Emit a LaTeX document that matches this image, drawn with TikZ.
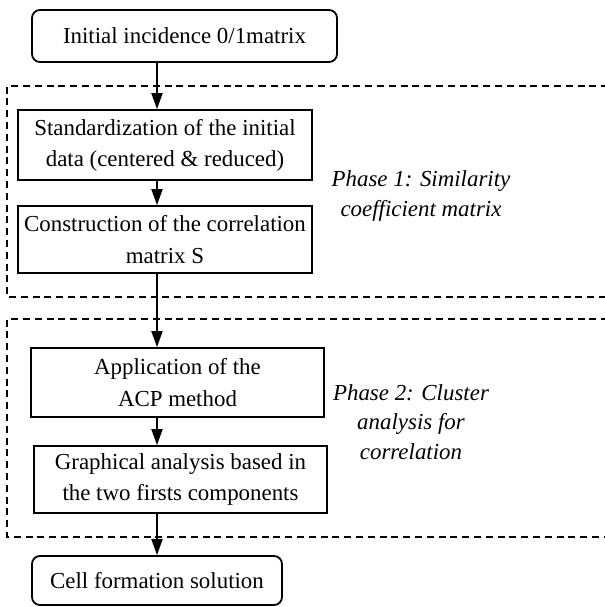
\documentclass[tikz,border=0pt]{standalone}
\usepackage{fontspec}
\setmainfont{Liberation Serif}
\usetikzlibrary{arrows.meta, positioning}

\begin{document}
\begin{tikzpicture}[x=0.5pt, y=-0.5pt,
    step box/.style={rectangle, draw=black, line width=0.9pt, fill=white, inner sep=0pt, align=center, font=\fontsize{11.45}{15.6}\selectfont},
    end box/.style={step box, rounded corners=4pt},
    phase/.style={dashed, dash pattern=on 3.5pt off 2.4pt, line width=0.8pt},
    label/.style={align=center, font=\fontsize{11.45}{14.6}\selectfont\itshape},
    arrow/.style={-{Triangle[length=8pt, width=5.5pt]}, line width=0.9pt}
]
\useasboundingbox (0,0) rectangle (605,607);

% Phase frames (open on the right)
\draw[phase] (620,86) -- (7,86) -- (7,297) -- (620,297);
\draw[phase] (620,319) -- (7,319) -- (7,537) -- (620,537);

\node[end box, minimum width=152.5pt, minimum height=26pt] (init) at (184.5,36) {Initial incidence 0/1matrix};
\node[step box, minimum width=147pt, minimum height=35pt] (std) at (165,145) {Standardization of the initial\\data (centered \& reduced)};
\node[step box, minimum width=147pt, minimum height=33.5pt] (corr) at (165,239.5) {Construction of the correlation\\matrix S};
\node[step box, minimum width=146.5pt, minimum height=34.5pt] (acp) at (177.5,382.5) {Application of the\\ACP method};
\node[step box, minimum width=146.5pt, minimum height=33.5pt] (graph) at (180.5,479.5) {Graphical analysis based in\\the two firsts components};
\node[end box, minimum width=125pt, minimum height=24.5pt] (cell) at (157,580.5) {Cell formation solution};

\coordinate (axis) at (157,0);

\draw[arrow] (init.south -| axis) -- (std.north -| axis);
\draw[arrow] (std.south -| axis) -- (corr.north -| axis);
\draw[arrow] (corr.south -| axis) -- (acp.north -| axis);
\draw[arrow] (acp.south -| axis) -- (graph.north -| axis);
\draw[arrow] (graph.south -| axis) -- (cell.north -| axis);

% Phase labels
\node[label] (phase1) at (421,196) {Phase 1: Similarity\\coefficient matrix};
\node[label] (phase2) at (411,422) {Phase 2: Cluster\\analysis for\\correlation};

\end{tikzpicture}
\end{document}
